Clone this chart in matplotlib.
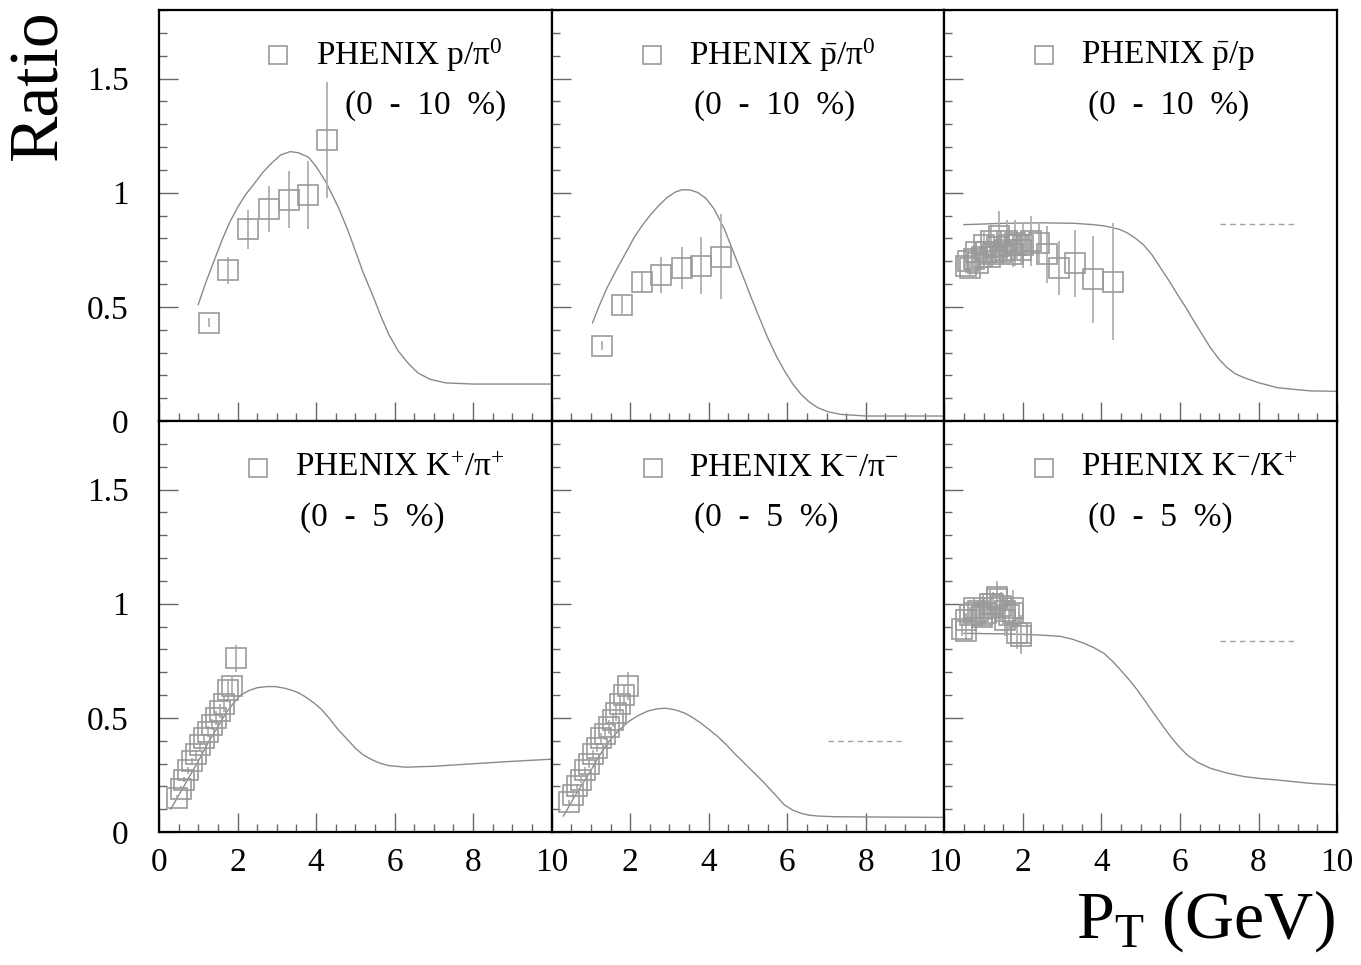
import matplotlib
matplotlib.use("Agg")
import matplotlib.pyplot as plt
from matplotlib.ticker import MultipleLocator, FuncFormatter

plt.rcParams['font.family'] = ['Liberation Serif', 'DejaVu Serif']
plt.rcParams['mathtext.fontset'] = 'custom'
plt.rcParams['mathtext.rm'] = 'Liberation Serif'
plt.rcParams['mathtext.it'] = 'Liberation Serif:italic'
plt.rcParams['mathtext.bf'] = 'Liberation Serif:bold'

# ---- data ----
# top row, 0-10 % centrality
pp0_x = [1.28, 1.77, 2.28, 2.79, 3.30, 3.79, 4.28]
pp0_y = [0.43, 0.66, 0.84, 0.93, 0.97, 0.99, 1.23]
pp0_e = [0.02, 0.06, 0.085, 0.10, 0.125, 0.15, 0.255]
pp0_cx = [1.0, 1.2, 1.4, 1.6, 1.8, 2.0, 2.2, 2.45, 2.65, 2.87, 3.1, 3.34, 3.55, 3.81, 4.0, 4.24, 4.4,
          4.57, 4.8, 5.0, 5.2, 5.43, 5.65, 5.85, 6.1, 6.36, 6.6, 6.9, 7.3, 8.0, 10.0]
pp0_cy = [0.51, 0.61, 0.70, 0.79, 0.87, 0.935, 0.99, 1.045, 1.09, 1.13, 1.165, 1.18, 1.175, 1.155, 1.115,
          1.05, 0.995, 0.935, 0.84, 0.746, 0.65, 0.556, 0.46, 0.38, 0.305, 0.25, 0.21, 0.183, 0.167, 0.162, 0.162]

pbp0_x = [1.29, 1.78, 2.29, 2.78, 3.31, 3.80, 4.31]
pbp0_y = [0.33, 0.51, 0.61, 0.64, 0.67, 0.68, 0.72]
pbp0_e = [0.02, 0.04, 0.045, 0.08, 0.09, 0.125, 0.186]
pbp0_cx = [1.04, 1.2, 1.4, 1.68, 1.9, 2.1, 2.3, 2.53, 2.75, 2.95, 3.15, 3.33, 3.52, 3.72, 3.93, 4.14, 4.4,
           4.65, 4.87, 5.08, 5.3, 5.5, 5.72, 5.93, 6.15, 6.35, 6.55, 6.78, 7.05, 7.37, 8.0, 10.0]
pbp0_cy = [0.43, 0.50, 0.58, 0.672, 0.74, 0.804, 0.855, 0.906, 0.948, 0.98, 1.003, 1.013, 1.012, 1.001,
           0.975, 0.928, 0.84, 0.731, 0.635, 0.541, 0.448, 0.365, 0.285, 0.219, 0.16, 0.117, 0.085, 0.058,
           0.04, 0.029, 0.022, 0.022]

pbp_lo_x = [0.55, 0.65, 0.75, 0.85, 0.95, 1.05, 1.15, 1.25, 1.35, 1.45, 1.55, 1.65, 1.75, 1.85, 1.95]
pbp_lo_y = [0.68, 0.67, 0.71, 0.69, 0.72, 0.74, 0.72, 0.73, 0.76, 0.74, 0.75, 0.77, 0.73, 0.77, 0.75]
pbp_lo_e = [0.03, 0.03, 0.03, 0.03, 0.035, 0.035, 0.04, 0.04, 0.045, 0.045, 0.05, 0.05, 0.055, 0.06, 0.06]
pbp_mid_x = [0.6, 0.8, 1.0, 1.2, 1.4, 1.6, 1.8, 2.0, 2.2]
pbp_mid_y = [0.70, 0.74, 0.77, 0.79, 0.81, 0.79, 0.78, 0.77, 0.79]
pbp_mid_e = [0.04, 0.05, 0.06, 0.07, 0.11, 0.09, 0.10, 0.10, 0.11]
pbp_hi_x = [2.42, 2.62, 2.93, 3.32, 3.78, 4.29]
pbp_hi_y = [0.78, 0.73, 0.67, 0.69, 0.62, 0.61]
pbp_hi_e = [0.09, 0.125, 0.12, 0.146, 0.19, 0.256]
pbp_cx = [0.5, 1.5, 2.5, 3.3, 3.8, 4.05, 4.25, 4.45, 4.65, 4.87, 5.08, 5.3, 5.5, 5.72, 5.93, 6.15, 6.35,
          6.57, 6.78, 7.0, 7.2, 7.4, 7.63, 8.0, 8.48, 9.0, 9.33, 10.0]
pbp_cy = [0.86, 0.866, 0.868, 0.866, 0.86, 0.855, 0.848, 0.84, 0.825, 0.80, 0.77, 0.725, 0.672, 0.615,
          0.556, 0.497, 0.439, 0.378, 0.32, 0.27, 0.234, 0.208, 0.19, 0.168, 0.146, 0.137, 0.132, 0.13]
pbp_dash_y = 0.865

# bottom row, 0-5 % centrality
k_x = [0.45, 0.55, 0.65, 0.75, 0.85, 0.95, 1.05, 1.15, 1.25, 1.35, 1.45, 1.55, 1.65, 1.75, 1.85, 1.95]
kp_y = [0.15, 0.19, 0.23, 0.27, 0.31, 0.34, 0.38, 0.41, 0.44, 0.47, 0.50, 0.53, 0.56, 0.62, 0.64, 0.76]
kp_e = [0.01, 0.01, 0.01, 0.015, 0.015, 0.02, 0.02, 0.02, 0.025, 0.025, 0.03, 0.03, 0.035, 0.04, 0.045, 0.06]
kp_cx = [0.3, 0.6, 1.0, 1.28, 1.5, 1.7, 1.9, 2.08, 2.3, 2.5, 2.75, 2.96, 3.2, 3.4, 3.55, 3.72, 3.95, 4.15,
         4.35, 4.57, 4.8, 5.0, 5.2, 5.43, 5.65, 5.85, 6.28, 7.0, 7.55, 8.83, 10.0]
kp_cy = [0.10, 0.19, 0.31, 0.40, 0.46, 0.52, 0.565, 0.60, 0.62, 0.632, 0.637, 0.637, 0.63, 0.62, 0.61,
         0.593, 0.565, 0.535, 0.495, 0.447, 0.405, 0.367, 0.338, 0.316, 0.30, 0.291, 0.284, 0.288, 0.294,
         0.308, 0.319]

km_y = [0.13, 0.16, 0.20, 0.23, 0.27, 0.30, 0.34, 0.37, 0.41, 0.43, 0.46, 0.49, 0.52, 0.56, 0.60, 0.64]
km_e = [0.01, 0.01, 0.01, 0.015, 0.015, 0.02, 0.02, 0.02, 0.025, 0.025, 0.03, 0.03, 0.035, 0.04, 0.045, 0.06]
km_cx = [0.3, 0.6, 1.0, 1.2, 1.42, 1.68, 1.96, 2.2, 2.45, 2.7, 2.91, 3.15, 3.4, 3.6, 3.8, 4.0, 4.23, 4.45,
         4.65, 4.87, 5.08, 5.3, 5.5, 5.72, 5.93, 6.15, 6.35, 6.55, 6.78, 7.2, 8.0, 10.0]
km_cy = [0.07, 0.16, 0.27, 0.33, 0.389, 0.44, 0.484, 0.51, 0.53, 0.54, 0.542, 0.535, 0.52, 0.50, 0.477,
         0.45, 0.418, 0.382, 0.345, 0.308, 0.272, 0.235, 0.199, 0.158, 0.118, 0.095, 0.082, 0.074, 0.07,
         0.067, 0.066, 0.064]
km_dash_y = 0.40

kk_y = [0.89, 0.93, 0.95, 0.96, 0.97, 0.94, 0.96, 0.98, 1.00, 1.02, 0.99, 0.97, 0.95, 0.96, 0.87, 0.86]
kk_e = [0.03, 0.03, 0.035, 0.035, 0.04, 0.04, 0.045, 0.05, 0.05, 0.055, 0.06, 0.06, 0.065, 0.07, 0.07, 0.08]
kk2_x = [0.55, 0.75, 0.95, 1.15, 1.35, 1.55, 1.75, 1.95]
kk2_y = [0.88, 0.98, 0.95, 1.00, 1.03, 0.93, 0.98, 0.87]
kk2_e = [0.04, 0.05, 0.05, 0.06, 0.07, 0.07, 0.08, 0.08]
kk_cx = [0.5, 1.5, 2.27, 2.6, 2.95, 3.25, 3.55, 3.8, 4.06, 4.27, 4.48, 4.7, 4.91, 5.12, 5.33, 5.55, 5.76,
         5.97, 6.18, 6.45, 6.78, 7.2, 7.63, 8.0, 8.48, 9.33, 10.0]
kk_cy = [0.87, 0.868, 0.864, 0.861, 0.857, 0.845, 0.827, 0.808, 0.783, 0.75, 0.711, 0.668, 0.623, 0.572,
         0.52, 0.468, 0.418, 0.375, 0.338, 0.305, 0.279, 0.258, 0.243, 0.235, 0.228, 0.213, 0.206]
kk_dash_y = 0.836

dash_x = [7.03, 8.9]

labels = [r"PHENIX p/π$^{0}$", r"PHENIX $\bar{\mathrm{p}}$/π$^{0}$", r"PHENIX $\bar{\mathrm{p}}$/p",
          r"PHENIX K$^{+}$/π$^{+}$", r"PHENIX K$^{-}$/π$^{-}$", r"PHENIX K$^{-}$/K$^{+}$"]
cents = ["(0  -  10  %)"] * 3 + ["(0  -  5  %)"] * 3
# legend placement (axes fractions): marker x, text x, second-line x
leg_pos = [(0.304, 0.40, 0.475), (0.255, 0.35, 0.362), (0.255, 0.349, 0.365),
           (0.253, 0.347, 0.36), (0.258, 0.349, 0.362), (0.255, 0.349, 0.365)]

GREY = "#9a9a9a"
LINE = "#8a8a8a"

fig, axes = plt.subplots(2, 3, figsize=(13.61, 9.65), dpi=100)
fig.subplots_adjust(left=0.1168, right=0.9824, top=0.9896, bottom=0.1378, wspace=0, hspace=0)


def points(ax, x, y, e):
    ax.errorbar(x, y, yerr=e, fmt='s', ms=14, mfc='none', mec=GREY, mew=1.2,
                ecolor="#b0b0b0", elinewidth=1.3, capsize=0, zorder=3)


panels = [
    ([(pp0_x, pp0_y, pp0_e)], (pp0_cx, pp0_cy), None),
    ([(pbp0_x, pbp0_y, pbp0_e)], (pbp0_cx, pbp0_cy), None),
    ([(pbp_lo_x, pbp_lo_y, pbp_lo_e), (pbp_mid_x, pbp_mid_y, pbp_mid_e), (pbp_hi_x, pbp_hi_y, pbp_hi_e)],
     (pbp_cx, pbp_cy), pbp_dash_y),
    ([(k_x, kp_y, kp_e)], (kp_cx, kp_cy), None),
    ([(k_x, km_y, km_e)], (km_cx, km_cy), km_dash_y),
    ([(k_x, kk_y, kk_e), (kk2_x, kk2_y, kk2_e)], (kk_cx, kk_cy), kk_dash_y),
]

for i, ax in enumerate(axes.flat):
    sets, curve, dash = panels[i]
    ax.plot(curve[0], curve[1], color=LINE, lw=1.0, zorder=2)
    for s in sets:
        points(ax, *s)
    if dash is not None:
        ax.plot(dash_x, [dash, dash], color="#a0a0a0", lw=1.0, ls=(0, (4, 3)))

    ax.set_xlim(0, 10)
    ax.set_ylim(0, 1.8)
    ax.xaxis.set_major_locator(MultipleLocator(2))
    ax.xaxis.set_minor_locator(MultipleLocator(0.5))
    ax.yaxis.set_major_locator(MultipleLocator(0.5))
    ax.yaxis.set_minor_locator(MultipleLocator(0.1))
    ax.tick_params(which='both', direction='in', top=False, right=False, color="#666666", width=1.0)
    ax.tick_params(which='major', length=14)
    ax.tick_params(which='minor', length=6)
    ax.tick_params(axis='y', labelsize=24, pad=22)
    ax.tick_params(axis='x', labelsize=24, pad=11)
    for sp in ax.spines.values():
        sp.set_linewidth(1.6)
        sp.set_color("black")

    row, col = divmod(i, 3)
    if col == 0:
        ax.yaxis.set_major_formatter(FuncFormatter(lambda v, p: "%g" % v))
    else:
        ax.set_yticklabels([])
    if row == 1:
        if col == 0:
            ax.xaxis.set_major_formatter(FuncFormatter(lambda v, p: "%g" % v))
        else:
            ax.xaxis.set_major_formatter(FuncFormatter(lambda v, p: "" if v == 0 else "%g" % v))
    else:
        ax.set_xticklabels([])

    mx, tx, cx = leg_pos[i]
    ly = 0.89 if row == 0 else 0.886
    ax.plot([mx], [ly], transform=ax.transAxes, marker='s', ms=13, mfc='none', mec=GREY, mew=1.2,
            ls='none', clip_on=False)
    ax.text(tx, ly, labels[i], transform=ax.transAxes, fontsize=24, va='center', ha='left')
    ax.text(cx, ly - 0.122, cents[i], transform=ax.transAxes, fontsize=24, va='center', ha='left')

fig.text(0.029, 0.912, "Ratio", rotation=90, fontsize=50, ha='center', va='center')
fig.text(0.981, 0.046, r"P$_{\mathrm{T}}$ (GeV)", fontsize=49, ha='right', va='center')

fig.savefig("out.png", dpi=100)
